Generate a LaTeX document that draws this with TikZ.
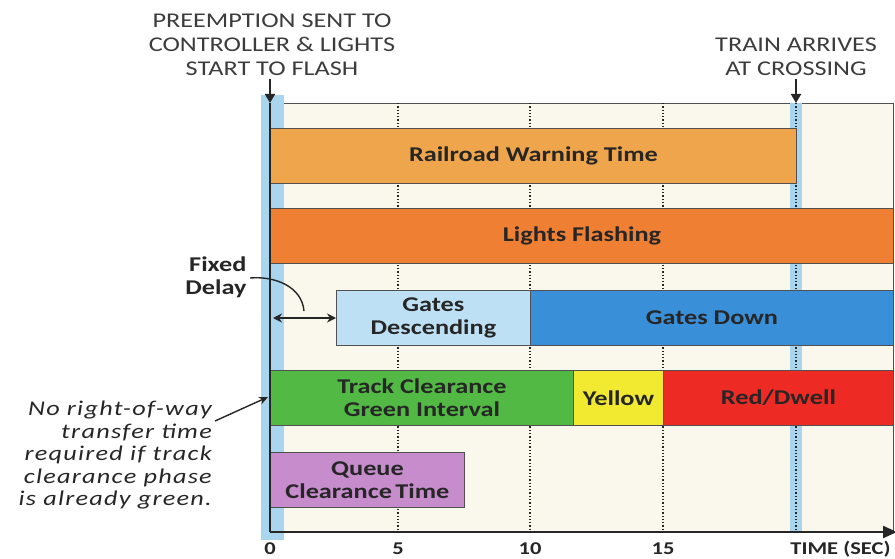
\documentclass[tikz,border=0pt]{standalone}
\usepackage{fontspec}
\setmainfont{Carlito}[FakeStretch=1.25]
\newfontfamily\notefont{Carlito}[FakeStretch=1.25, LetterSpace=6]
\usepackage{tikz}
\usetikzlibrary{positioning, calc, arrows.meta}

\definecolor{cream}{HTML}{FAF8EC}
\definecolor{bandblue}{HTML}{A9D6EE}
\definecolor{warncol}{HTML}{EEA54C}
\definecolor{flashcol}{HTML}{EE7F33}
\definecolor{desccol}{HTML}{BEE0F5}
\definecolor{downcol}{HTML}{3A8FD9}
\definecolor{greencol}{HTML}{52B944}
\definecolor{yellowcol}{HTML}{F2EA30}
\definecolor{redcol}{HTML}{EE2A24}
\definecolor{queuecol}{HTML}{C68CCB}
\definecolor{inkcol}{HTML}{262626}

\tikzset{
    bar/.style={draw=inkcol!80, line width=0.9pt, anchor=north west,
        minimum height=55pt, inner sep=0pt, align=center, text=inkcol,
        font=\fontsize{21}{23}\selectfont\bfseries},
    caps/.style={align=center, text=inkcol!90,
        font=\fontsize{21}{24}\selectfont},
    tick/.style={text=inkcol, font=\fontsize{18}{21}\selectfont\bfseries},
    grid/.style={dotted, line width=1.3pt, inkcol},
    axis/.style={line width=2.2pt, inkcol},
}

\begin{document}
\begin{tikzpicture}[x=1pt, y=-1pt]
    \useasboundingbox (0,0) rectangle (895,559);

    % chart area
    \coordinate (origin) at (270,532);
    \coordinate (ytop) at (270,103);
    \coordinate (xend) at (897,532);
    \fill[cream] (270,103) rectangle (893,532);
    \draw[inkcol!80, line width=0.8pt] (ytop) -- (893,103) -- (893,532);

    % blue bands at preemption and train arrival
    \fill[bandblue] (261,95) rectangle (284,540);
    \fill[bandblue] (790,103) rectangle (802,532);

    % dotted time lines
    \foreach \x in {398,530,663,796}
        \draw[grid] (\x,103) -- (\x,532);

    % bars
    \node[bar, fill=warncol, minimum width=526pt] (rwt) at (270,128) {Railroad Warning Time};
    \node[bar, fill=flashcol, minimum width=623pt] (lights) at (270,208) {Lights Flashing};
    \node[bar, fill=desccol, minimum width=194pt] (gdesc) at (336,290) {Gates\\Descending};
    \node[bar, fill=downcol, minimum width=363pt] (gdown) at (530,290) {Gates Down};
    \node[bar, fill=greencol, minimum width=303pt] (green) at (270,370) {Track Clearance\\Green Interval};
    \node[bar, fill=yellowcol, minimum width=90pt] (yellow) at (573,370) {Yellow};
    \node[bar, fill=redcol, minimum width=230pt] (red) at (663,370) {Red/Dwell};
    \node[bar, fill=queuecol, minimum width=194pt] (queue) at (270,452) {Queue\\Clearance\,Time};

    % axes
    \draw[axis] (ytop) -- (origin);
    \draw[axis, -{Triangle[length=14pt, width=12pt]}] (origin) -- (xend);

    % tick labels
    \node[tick] (t0) at (270,549) {0};
    \node[tick] (t5) at (398,549) {5};
    \node[tick] (t10) at (530,549) {10};
    \node[tick] (t15) at (663,549) {15};
    \node[tick, anchor=east] (tsec) at (894,549) {TIME (SEC)};

    % top annotations
    \node[caps] (preempt) at (272,45) {PREEMPTION SENT TO\\CONTROLLER \& LIGHTS\\START TO FLASH};
    \coordinate (t20top) at (796,103);
    \node[caps] (train) at (796,57) {TRAIN ARRIVES\\AT CROSSING};
    \draw[inkcol, line width=2pt, -{Triangle[length=9pt, width=10pt]}] (preempt.south -| ytop) -- (ytop);
    \draw[inkcol, line width=2pt, -{Triangle[length=9pt, width=10pt]}] (train.south -| t20top) -- (t20top);

    % fixed delay
    \node[align=right, anchor=east, text=inkcol,
        font=\fontsize{21}{23}\selectfont\bfseries] (fixed) at (250,277) {Fixed\\Delay};
    \coordinate (bend) at (304,311);
    \draw[inkcol, line width=1.4pt] ([yshift=-1pt]fixed.east) to[out=5, in=95] (bend);
    \coordinate (dl) at (273,318);
    \draw[inkcol, line width=1.6pt, {Stealth[length=9pt, width=9pt]}-{Stealth[length=9pt, width=9pt]}] (dl) -- (gdesc.west |- dl);

    % note on track clearance
    \node[align=right, anchor=north east, text=inkcol, inner sep=0pt,
        font=\notefont\fontsize{21}{22.5}\selectfont\itshape] (note) at (212,401) {No right-of-way\\transfer time\\required if track\\clearance phase\\is already green.};
    \coordinate (na) at ([shift={(3,20)}]note.north east);
    \draw[inkcol, line width=1.4pt, -{Stealth[length=9pt, width=8pt]}] (na) -- (268,397);

\end{tikzpicture}
\end{document}
